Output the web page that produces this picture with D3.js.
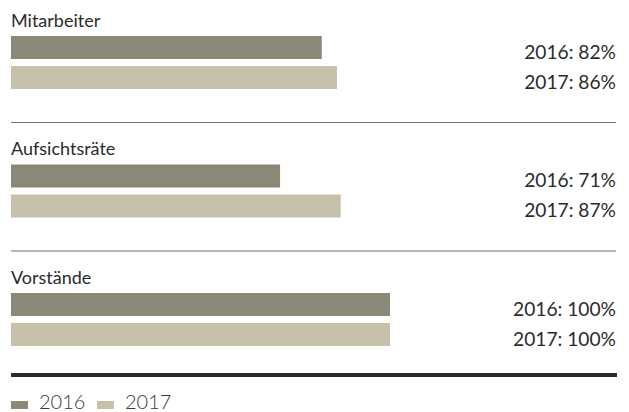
<!DOCTYPE html>
<html>
<head>
<meta charset="utf-8">
<script src="https://cdn.jsdelivr.net/npm/d3@7"></script>
<style>
  html, body { margin: 0; padding: 0; background: #fff; }
  svg { display: block; }
  text { font-family: Lato, "Open Sans", sans-serif; }
</style>
</head>
<body>
<svg id="chart" width="629" height="412"></svg>
<script>
const categories = ["Mitarbeiter", "Aufsichtsräte", "Vorstände"];
const years = ["2016", "2017"];
const values2016 = [82, 71, 100];
const values2017 = [86, 87, 100];
const colors = ["#8b8878", "#c6bfa9"];

const svg = d3.select("#chart");

const x = d3.scaleLinear().domain([0, 100]).range([11, 390]);
const ySection = d3.scaleLinear().domain([0, 2]).range([36, 293]);
const barH = 23, barStep = 30;
const rightEdge = 616;

categories.forEach((cat, i) => {
  const y0 = ySection(i);
  const g = svg.append("g");
  g.append("text")
    .attr("x", 11).attr("y", y0 - 9.5)
    .attr("font-size", 18).attr("fill", "#2b2b2b")
    .text(cat);
  const vals = [values2016[i], values2017[i]];
  vals.forEach((v, j) => {
    const yb = y0 + j * barStep;
    g.append("rect")
      .attr("x", x(0)).attr("y", yb)
      .attr("width", x(v) - x(0)).attr("height", barH)
      .attr("fill", colors[j]);
    g.append("text")
      .attr("x", rightEdge).attr("y", yb + barH - 0.5)
      .attr("text-anchor", "end")
      .attr("font-size", 19.2).attr("fill", "#2b2b2b")
      .text(`${years[j]}: ${v}%`);
  });
  if (i < categories.length - 1) {
    g.append("line")
      .attr("x1", 11).attr("x2", rightEdge)
      .attr("y1", y0 + 86.5).attr("y2", y0 + 86.5)
      .attr("stroke", "#6f6f6f").attr("stroke-width", 1);
  }
});

// thick bottom rule
svg.append("rect")
  .attr("x", 11).attr("y", 373).attr("width", rightEdge + 1 - 11).attr("height", 4)
  .attr("fill", "#2a2a2a");

// legend
const legendX = [11, 97];
years.forEach((yr, j) => {
  svg.append("rect")
    .attr("x", legendX[j]).attr("y", 401).attr("width", 17).attr("height", 8)
    .attr("fill", colors[j]);
  svg.append("text")
    .attr("x", legendX[j] + 28).attr("y", 408.5)
    .attr("font-size", 20).attr("font-weight", 300).attr("fill", "#3a3a3a")
    .text(yr);
});
</script>
</body>
</html>
